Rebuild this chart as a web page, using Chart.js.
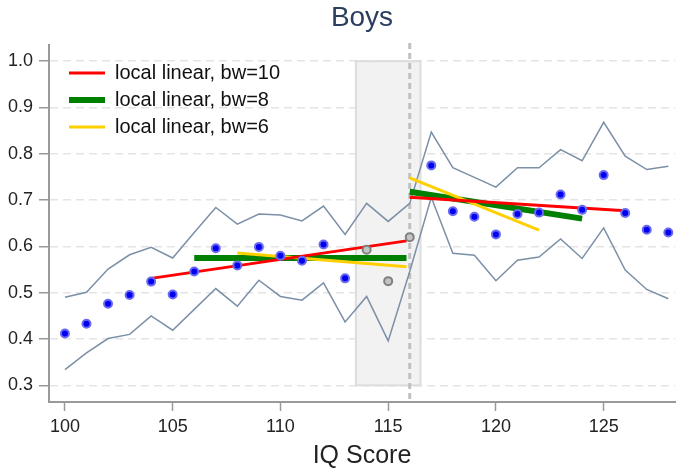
<!DOCTYPE html>
<html>
<head>
<meta charset="utf-8">
<script src="https://cdn.jsdelivr.net/npm/chart.js@4/dist/chart.umd.min.js"></script>
<style>
  body { margin: 0; background: #fff; }
  #wrap { width: 681px; height: 472px; }
</style>
</head>
<body>
<div id="wrap"><canvas id="rdChart" width="681" height="472"></canvas></div>
<script>
// IQ score bins
const iq = [100, 101, 102, 103, 104, 105, 106, 107, 108, 109, 110, 111, 112, 113, 114,
            115, 116, 117, 118, 119, 120, 121, 122, 123, 124, 125, 126, 127, 128];
// bin means and 95% band
const binMean = [0.412, 0.433, 0.476, 0.495, 0.524, 0.496, 0.546, 0.596, 0.559, 0.599, 0.580, 0.569, 0.604, 0.531, 0.593,
                 0.525, 0.620, 0.775, 0.676, 0.664, 0.626, 0.670, 0.673, 0.712, 0.679, 0.754, 0.672, 0.636, 0.630];
const ciUpper = [0.490, 0.501, 0.551, 0.582, 0.598, 0.575, 0.630, 0.684, 0.648, 0.670, 0.668, 0.655, 0.687, 0.626, 0.693,
                 0.654, 0.693, 0.847, 0.770, 0.749, 0.728, 0.770, 0.770, 0.809, 0.785, 0.868, 0.795, 0.766, 0.773];
const ciLower = [0.334, 0.370, 0.401, 0.410, 0.450, 0.419, 0.464, 0.509, 0.471, 0.527, 0.492, 0.484, 0.521, 0.437, 0.492,
                 0.396, 0.546, 0.706, 0.585, 0.581, 0.526, 0.570, 0.577, 0.616, 0.574, 0.640, 0.549, 0.507, 0.487];
// bins left out of the fit (donut around the cutoff)
const donutBins = [114, 115, 116];
const donutRange = [113.5, 116.5];
const cutoff = 116;

// local linear fits: [start, end] on each side of the cutoff
const bw10Left = { x: [104, 115.85], y: [0.531, 0.612] };
const bw10Right = { x: [116, 126], y: [0.706, 0.677] };
const bw8Left = { x: [106, 115.85], y: [0.575, 0.575] };
const bw8Right = { x: [116, 124], y: [0.718, 0.660] };
const bw6Left = { x: [108, 115.85], y: [0.586, 0.556] };
const bw6Right = { x: [116, 122], y: [0.748, 0.635] };

const xTicks = [100, 105, 110, 115, 120, 125];
const yTicks = [0.3, 0.4, 0.5, 0.6, 0.7, 0.8, 0.9, 1.0];

function pts(xs, ys) {
    return xs.map((x, i) => ({ x: x, y: ys[i] }));
}
function fitPts(left, right) {
    return pts(left.x, left.y).concat([{ x: cutoff, y: null }], pts(right.x, right.y));
}

const inFit = iq.map((x, i) => ({ x: x, y: binMean[i] })).filter(p => !donutBins.includes(p.x));
const outFit = iq.map((x, i) => ({ x: x, y: binMean[i] })).filter(p => donutBins.includes(p.x));

const font = 'Liberation Sans, Arial, sans-serif';

// shaded donut box + dashed cutoff line, placed through the scales
const bandPlugin = {
    id: 'band',
    beforeDatasetsDraw(chart) {
        const { ctx, chartArea, scales: { x, y } } = chart;
        const x0 = x.getPixelForValue(donutRange[0]);
        const x1 = x.getPixelForValue(donutRange[1]);
        const y0 = y.getPixelForValue(yTicks[yTicks.length - 1]);
        const y1 = y.getPixelForValue(yTicks[0]);
        ctx.save();
        ctx.fillStyle = '#f2f2f2';
        ctx.fillRect(x0, y0, x1 - x0, y1 - y0);
        ctx.strokeStyle = '#dddddd';
        ctx.lineWidth = 2;
        ctx.strokeRect(x0, y0, x1 - x0, y1 - y0);
        const xc = x.getPixelForValue(cutoff);
        ctx.setLineDash([6, 4]);
        ctx.strokeStyle = '#c0c0c0';
        ctx.lineWidth = 3;
        ctx.beginPath();
        ctx.moveTo(xc, chartArea.top - 2);
        ctx.lineTo(xc, chartArea.bottom);
        ctx.stroke();
        ctx.restore();
    }
};

// nudge the in-plot legend away from the axes
const legendShift = {
    id: 'legendShift',
    afterLayout(chart) {
        chart.legend.left += 13;
        chart.legend.top += 56;
    }
};

new Chart(document.getElementById('rdChart'), {
    type: 'line',
    data: {
        datasets: [
            { label: 'local linear, bw=10', data: fitPts(bw10Left, bw10Right), borderColor: '#ff0000', backgroundColor: '#ff0000',
              borderWidth: 3, pointRadius: 0, order: 1 },
            { label: 'local linear, bw=8', data: fitPts(bw8Left, bw8Right), borderColor: '#008000', backgroundColor: '#008000',
              borderWidth: 6, pointRadius: 0, order: 3 },
            { label: 'local linear, bw=6', data: fitPts(bw6Left, bw6Right), borderColor: '#ffd000', backgroundColor: '#ffd000',
              borderWidth: 3, pointRadius: 0, order: 2 },
            { label: 'bins', data: inFit, showLine: false, pointRadius: 4, pointBorderWidth: 2,
              pointBackgroundColor: '#0000ee', pointBorderColor: '#6a6af0', order: 0 },
            { label: 'donut', data: outFit, showLine: false, pointRadius: 4, pointBorderWidth: 2,
              pointBackgroundColor: '#c4c4c4', pointBorderColor: '#808080', order: 0 },
            { label: 'upper', data: pts(iq, ciUpper), borderColor: '#7b8fa6', borderWidth: 1.5, pointRadius: 0, order: 5 },
            { label: 'lower', data: pts(iq, ciLower), borderColor: '#7b8fa6', borderWidth: 1.5, pointRadius: 0, order: 5 }
        ]
    },
    options: {
        responsive: false,
        animation: false,
        layout: { padding: { right: 1 } },
        plugins: {
            title: {
                display: true, text: 'Boys', color: '#2a3f5f', fullSize: false,
                font: { family: font, size: 28, weight: 'normal', lineHeight: 1.2 },
                padding: { top: 1, bottom: 10.4 }
            },
            legend: {
                position: 'chartArea',
                align: 'start',
                labels: {
                    usePointStyle: true, pointStyle: 'line', pointStyleWidth: 36,
                    padding: 7, color: '#111',
                    font: { family: font, size: 20 },
                    filter: item => item.text.startsWith('local linear'),
                    sort: (a, b) => a.datasetIndex - b.datasetIndex
                }
            },
            tooltip: { enabled: false }
        },
        scales: {
            x: {
                type: 'linear', min: 99.26, max: 128.31,
                afterFit: s => { s.height = 70; },
                afterBuildTicks: s => { s.ticks = xTicks.map(v => ({ value: v })); },
                ticks: { includeBounds: false, padding: 5, color: '#222', font: { family: font, size: 18 } },
                grid: { drawOnChartArea: false, tickLength: 9, tickColor: '#999', tickWidth: 1.5 },
                border: { color: '#999', width: 2 },
                title: { display: true, text: 'IQ Score', color: '#222', font: { family: font, size: 25 }, padding: { top: 3, bottom: 1 } }
            },
            y: {
                type: 'linear', min: 0.264, max: 1.035,
                afterFit: s => { s.width = 49; },
                afterBuildTicks: s => { s.ticks = yTicks.map(v => ({ value: v })); },
                ticks: { includeBounds: false, padding: 6, color: '#222', font: { family: font, size: 18 },
                         callback: v => v.toFixed(1) },
                grid: { color: '#e4e4e4', lineWidth: 1.5, tickLength: 10, tickColor: '#999', tickWidth: 1.5 },
                border: { color: '#999', width: 2, dash: [8, 5] }
            }
        }
    },
    plugins: [bandPlugin, legendShift]
});
</script>
</body>
</html>
